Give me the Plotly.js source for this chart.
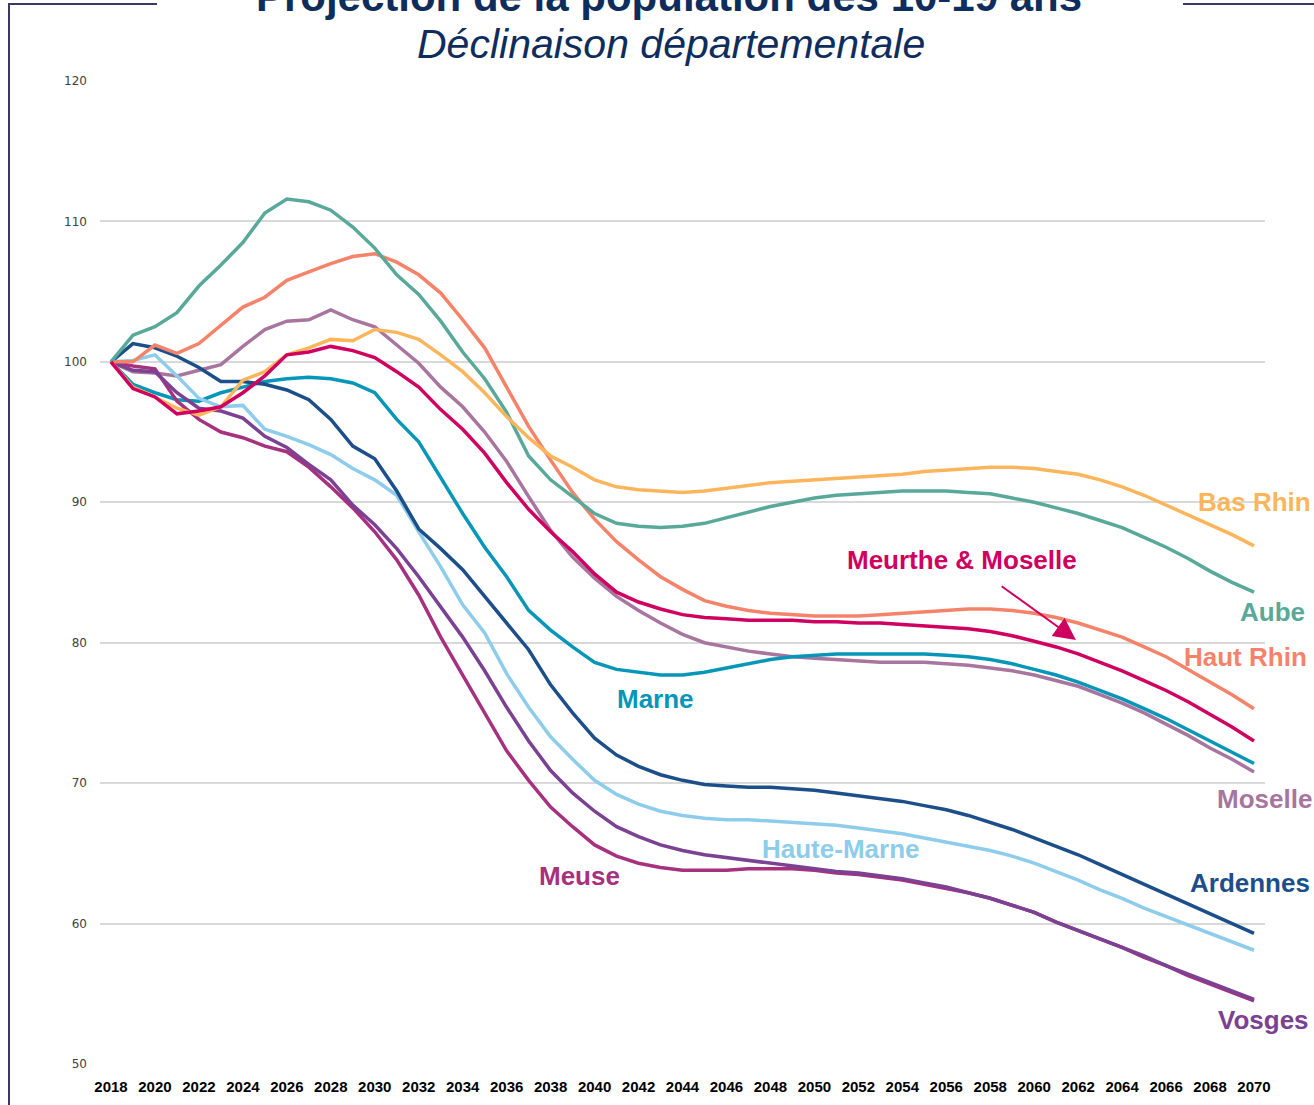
<!DOCTYPE html>
<html>
<head>
<meta charset="utf-8">
<script src="https://cdn.plot.ly/plotly-3.0.1.min.js"></script>
<style>
  html, body { margin: 0; padding: 0; background: #fff; }
  #chart { width: 1314px; height: 1105px; }
</style>
</head>
<body>
<div id="chart"></div>
<script>
// indice base 100 en 2018
var years = [2018, 2019, 2020, 2021, 2022, 2023, 2024, 2025, 2026, 2027,
  2028, 2029, 2030, 2031, 2032, 2033, 2034, 2035, 2036, 2037,
  2038, 2039, 2040, 2041, 2042, 2043, 2044, 2045, 2046, 2047,
  2048, 2049, 2050, 2051, 2052, 2053, 2054, 2055, 2056, 2057,
  2058, 2059, 2060, 2061, 2062, 2063, 2064, 2065, 2066, 2067,
  2068, 2069, 2070];

var basRhin = [100, 98.2, 97.5, 96.7, 96.2, 96.8, 98.7, 99.3, 100.5, 101.0,
  101.6, 101.5, 102.3, 102.1, 101.6, 100.5, 99.3, 97.8, 96.1, 94.6,
  93.3, 92.5, 91.6, 91.1, 90.9, 90.8, 90.7, 90.8, 91.0, 91.2,
  91.4, 91.5, 91.6, 91.7, 91.8, 91.9, 92.0, 92.2, 92.3, 92.4,
  92.5, 92.5, 92.4, 92.2, 92.0, 91.6, 91.1, 90.5, 89.8, 89.1,
  88.4, 87.7, 86.9];

var aube = [100, 101.9, 102.5, 103.5, 105.4, 106.9, 108.5, 110.6, 111.6, 111.4,
  110.8, 109.6, 108.1, 106.2, 104.8, 102.9, 100.7, 98.8, 96.4, 93.3,
  91.6, 90.4, 89.2, 88.5, 88.3, 88.2, 88.3, 88.5, 88.9, 89.3,
  89.7, 90.0, 90.3, 90.5, 90.6, 90.7, 90.8, 90.8, 90.8, 90.7,
  90.6, 90.3, 90.0, 89.6, 89.2, 88.7, 88.2, 87.5, 86.8, 86.0,
  85.1, 84.3, 83.6];

var hautRhin = [100, 100.0, 101.2, 100.6, 101.3, 102.6, 103.9, 104.6, 105.8, 106.4,
  107.0, 107.5, 107.7, 107.1, 106.2, 104.9, 103.0, 101.0, 98.2, 95.4,
  93.0, 90.7, 88.8, 87.2, 85.9, 84.7, 83.8, 83.0, 82.6, 82.3,
  82.1, 82.0, 81.9, 81.9, 81.9, 82.0, 82.1, 82.2, 82.3, 82.4,
  82.4, 82.3, 82.1, 81.8, 81.4, 80.9, 80.4, 79.7, 79.0, 78.1,
  77.2, 76.3, 75.3];

var meurthe = [100, 98.1, 97.5, 96.3, 96.5, 96.8, 97.8, 99.0, 100.5, 100.7,
  101.1, 100.8, 100.3, 99.3, 98.2, 96.6, 95.2, 93.5, 91.4, 89.5,
  87.9, 86.5, 84.9, 83.6, 82.9, 82.4, 82.0, 81.8, 81.7, 81.6,
  81.6, 81.6, 81.5, 81.5, 81.4, 81.4, 81.3, 81.2, 81.1, 81.0,
  80.8, 80.5, 80.1, 79.7, 79.2, 78.6, 78.0, 77.3, 76.6, 75.8,
  74.9, 74.0, 73.0];

var moselle = [100, 99.3, 99.2, 99.0, 99.4, 99.8, 101.1, 102.3, 102.9, 103.0,
  103.7, 103.0, 102.5, 101.2, 99.9, 98.2, 96.8, 95.0, 92.9, 90.4,
  88.0, 86.1, 84.6, 83.3, 82.3, 81.4, 80.6, 80.0, 79.7, 79.4,
  79.2, 79.0, 78.9, 78.8, 78.7, 78.6, 78.6, 78.6, 78.5, 78.4,
  78.2, 78.0, 77.7, 77.3, 76.9, 76.3, 75.7, 75.0, 74.2, 73.4,
  72.5, 71.7, 70.8];

var marne = [100, 98.4, 97.8, 97.3, 97.2, 97.8, 98.2, 98.6, 98.8, 98.9,
  98.8, 98.5, 97.8, 95.9, 94.3, 91.7, 89.2, 86.8, 84.7, 82.3,
  80.9, 79.7, 78.6, 78.1, 77.9, 77.7, 77.7, 77.9, 78.2, 78.5,
  78.8, 79.0, 79.1, 79.2, 79.2, 79.2, 79.2, 79.2, 79.1, 79.0,
  78.8, 78.5, 78.1, 77.7, 77.2, 76.6, 76.0, 75.3, 74.6, 73.8,
  73.0, 72.2, 71.4];

var ardennes = [100, 101.3, 101.0, 100.4, 99.6, 98.6, 98.6, 98.4, 98.0, 97.3,
  95.9, 94.0, 93.1, 90.8, 88.1, 86.7, 85.2, 83.3, 81.4, 79.5,
  77.0, 75.0, 73.2, 72.0, 71.2, 70.6, 70.2, 69.9, 69.8, 69.7,
  69.7, 69.6, 69.5, 69.3, 69.1, 68.9, 68.7, 68.4, 68.1, 67.7,
  67.2, 66.7, 66.1, 65.5, 64.9, 64.2, 63.5, 62.8, 62.1, 61.4,
  60.7, 60.0, 59.3];

var hauteMarne = [100, 100.1, 100.5, 99.0, 97.4, 96.8, 96.9, 95.2, 94.7, 94.1,
  93.4, 92.4, 91.6, 90.5, 87.9, 85.4, 82.7, 80.7, 77.8, 75.4,
  73.3, 71.7, 70.2, 69.2, 68.5, 68.0, 67.7, 67.5, 67.4, 67.4,
  67.3, 67.2, 67.1, 67.0, 66.8, 66.6, 66.4, 66.1, 65.8, 65.5,
  65.2, 64.8, 64.3, 63.7, 63.1, 62.4, 61.8, 61.1, 60.5, 59.9,
  59.3, 58.7, 58.1];

var meuse = [100, 99.7, 99.5, 97.2, 95.9, 95.0, 94.6, 94.0, 93.6, 92.5,
  91.1, 89.6, 87.9, 85.9, 83.4, 80.4, 77.7, 75.0, 72.3, 70.2,
  68.3, 66.9, 65.6, 64.8, 64.3, 64.0, 63.8, 63.8, 63.8, 63.9,
  63.9, 63.9, 63.8, 63.6, 63.5, 63.3, 63.1, 62.8, 62.5, 62.2,
  61.8, 61.3, 60.8, 60.1, 59.5, 58.9, 58.3, 57.6, 57.0, 56.3,
  55.7, 55.1, 54.5];

var vosges = [100, 99.4, 99.3, 97.8, 96.7, 96.5, 96.0, 94.7, 93.9, 92.7,
  91.6, 89.8, 88.4, 86.7, 84.7, 82.6, 80.4, 78.0, 75.4, 73.0,
  70.9, 69.3, 68.0, 66.9, 66.2, 65.6, 65.2, 64.9, 64.7, 64.5,
  64.3, 64.1, 63.9, 63.7, 63.6, 63.4, 63.2, 62.9, 62.6, 62.2,
  61.8, 61.3, 60.8, 60.1, 59.5, 58.9, 58.3, 57.7, 57.0, 56.4,
  55.8, 55.2, 54.6];

var names = ['Moselle', 'Marne', 'Haute-Marne', 'Ardennes', 'Meuse', 'Vosges',
  'Haut Rhin', 'Aube', 'Bas Rhin', 'Meurthe & Moselle'];
var series = [moselle, marne, hauteMarne, ardennes, meuse, vosges,
  hautRhin, aube, basRhin, meurthe];
var colors = ['#A8759F', '#0796B8', '#8DCDEB', '#1C4F8A', '#A7307F', '#7B4192',
  '#F5836A', '#58A99A', '#FDB55C', '#CF0060'];

// plot area in pixels
var L = 100, R = 1265, T = 81, B = 1064;
function pxX(x) { return (x - L) / (R - L); }
function pxY(y) { return (B - y) / (B - T); }

var data = series.map(function (s, i) {
  return {
    x: years,
    y: s,
    name: names[i],
    type: 'scatter',
    mode: 'lines',
    line: {color: colors[i], width: 3.5},
    hoverinfo: 'x+y+name'
  };
});

function lab(text, color, x, y, anchor, xref) {
  return {
    text: text, x: x, y: y, xref: xref || 'x', yref: 'y',
    xanchor: anchor, yanchor: 'middle', showarrow: false,
    font: {family: 'Liberation Sans, Arial, sans-serif', size: 26, color: color, weight: 'bold'}
  };
}

var annotations = [
  lab('Bas Rhin', '#FDB55C', pxX(1313), 90.0, 'right', 'paper'),
  lab('Aube', '#58A99A', pxX(1307), 82.2, 'right', 'paper'),
  lab('Haut Rhin', '#F5836A', pxX(1309), 79.0, 'right', 'paper'),
  lab('Moselle', '#A8759F', pxX(1314), 68.9, 'right', 'paper'),
  lab('Ardennes', '#1C4F8A', pxX(1312), 62.9, 'right', 'paper'),
  lab('Vosges', '#7B4192', pxX(1311), 53.1, 'right', 'paper'),
  lab('Meurthe & Moselle', '#CF0060', 2056.7, 85.9, 'center'),
  lab('Marne', '#0796B8', 2042.75, 76.0, 'center'),
  lab('Haute-Marne', '#8DCDEB', 2051.2, 65.3, 'center'),
  lab('Meuse', '#A7307F', 2039.3, 63.4, 'center'),
  {
    text: '', x: 2061.9, y: 80.2, xref: 'x', yref: 'y',
    ax: 2058.45, ay: 84.1, axref: 'x', ayref: 'y',
    showarrow: true, arrowhead: 2, arrowsize: 2.2, arrowwidth: 2,
    arrowcolor: '#CF0060', standoff: 0
  },
  {
    text: '<i>Déclinaison départementale</i>', x: pxX(671), y: pxY(44),
    xref: 'paper', yref: 'paper', xanchor: 'center', yanchor: 'middle',
    showarrow: false,
    font: {family: 'Liberation Sans, Arial, sans-serif', size: 41, color: '#0F2D5C'}
  }
];

var frame = {color: '#3B3A63', width: 2};
var shapes = [
  {type: 'line', xref: 'paper', yref: 'paper', x0: pxX(9), x1: pxX(9), y0: pxY(4), y1: pxY(1110), line: frame},
  {type: 'line', xref: 'paper', yref: 'paper', x0: pxX(8), x1: pxX(157), y0: pxY(4), y1: pxY(4), line: frame},
  {type: 'line', xref: 'paper', yref: 'paper', x0: pxX(1183), x1: pxX(1320), y0: pxY(4), y1: pxY(4), line: frame}
];

var layout = {
  width: 1314,
  height: 1105,
  margin: {l: L, r: 1314 - R, t: T, b: 1105 - B, pad: 0},
  paper_bgcolor: '#FFFFFF',
  plot_bgcolor: '#FFFFFF',
  showlegend: false,
  title: {
    text: 'Projection de la population des 10-19 ans',
    font: {family: 'Liberation Sans, Arial, sans-serif', size: 42, color: '#0F2D5C', weight: 'bold'},
    xref: 'container', x: 669 / 1314,
    yref: 'container', y: 1 - 11 / 1105, yanchor: 'bottom'
  },
  xaxis: {
    type: 'linear',
    range: [2017.5, 2070.5],
    tick0: 2018, dtick: 2,
    showgrid: false, zeroline: false, showline: false, ticks: '',
    ticklabelstandoff: 12,
    tickfont: {family: 'Liberation Sans, Arial, sans-serif', size: 15, color: '#000000', weight: 'bold'}
  },
  yaxis: {
    range: [50, 120],
    tick0: 50, dtick: 10,
    showgrid: true, gridcolor: '#D9D9D9', gridwidth: 1.5,
    zeroline: false, showline: false, ticks: '',
    ticklabelstandoff: 12,
    tickfont: {family: 'DejaVu Sans, Verdana, sans-serif', size: 12, color: '#404040'}
  },
  annotations: annotations,
  shapes: shapes
};

var config = {displayModeBar: false};

Plotly.newPlot('chart', data, layout, config);
</script>
</body>
</html>
